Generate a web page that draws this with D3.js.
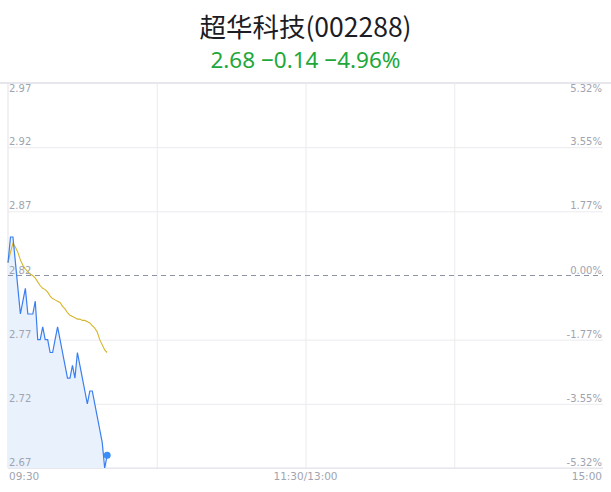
<!DOCTYPE html>
<html>
<head>
<meta charset="utf-8">
<script src="https://cdn.jsdelivr.net/npm/d3@7"></script>
<style>
  body { margin: 0; background: #fff; }
  svg { display: block; }
</style>
</head>
<body>
<div id="chart"></div>
<script>
const title = "超华科技(002288)";
const quote = "2.68 −0.14 −4.96%";
const prevClose = 2.82;
const priceTicks = [2.97, 2.92, 2.87, 2.82, 2.77, 2.72, 2.67];
const pctTicks = ["5.32%", "3.55%", "1.77%", "0.00%", "-1.77%", "-3.55%", "-5.32%"];
const timeTicks = [0, 120, 240];
const timeLabels = ["09:30", "11:30/13:00", "15:00"];

// minute prices from 09:30
const prices = [
  2.83, 2.85, 2.85, 2.83, 2.81, 2.79, 2.80, 2.81, 2.79, 2.79,
  2.79, 2.80, 2.77, 2.77, 2.78, 2.77, 2.77, 2.76, 2.76, 2.77,
  2.78, 2.77, 2.76, 2.75, 2.74, 2.74, 2.75, 2.74, 2.76, 2.75,
  2.74, 2.73, 2.72, 2.73, 2.73, 2.72, 2.71, 2.70, 2.69, 2.67,
  2.68
];
// average price line
const avgPrices = [
  2.830, 2.838, 2.845, 2.842, 2.838, 2.832, 2.828, 2.825, 2.823, 2.821,
  2.820, 2.818, 2.815, 2.812, 2.810, 2.809, 2.807, 2.804, 2.802, 2.801,
  2.800, 2.799, 2.796, 2.794, 2.791, 2.789, 2.788, 2.787, 2.786, 2.786,
  2.785, 2.785, 2.784, 2.783, 2.781, 2.779, 2.776, 2.770, 2.766, 2.762,
  2.760
];

const W = 611, H = 492;
const plot = { left: 8, right: 603, top: 83, bottom: 468 };

const svg = d3.select("#chart")
  .append("svg")
  .attr("width", W)
  .attr("height", H);

// title
svg.append("text")
  .attr("x", W / 2).attr("y", 37)
  .attr("text-anchor", "middle")
  .attr("font-family", "'Noto Sans CJK SC', 'Noto Sans', sans-serif")
  .attr("font-size", 26.5)
  .attr("fill", "#1c1c24")
  .text(title);

svg.append("text")
  .attr("x", W / 2).attr("y", 68)
  .attr("text-anchor", "middle")
  .attr("font-family", "'Noto Sans', 'Roboto', sans-serif")
  .attr("font-size", 22.5)
  .attr("fill", "#1ea83a")
  .text(quote);

// scales
const x = d3.scaleLinear().domain([0, 240]).range([plot.left, plot.right]);
const y = d3.scaleLinear().domain([2.67, 2.97]).range([plot.bottom, plot.top]);

// top border
svg.append("line")
  .attr("x1", 0).attr("x2", W)
  .attr("y1", plot.top).attr("y2", plot.top)
  .attr("stroke", "#e6e6ec").attr("stroke-width", 2);

// horizontal grid
svg.append("g")
  .attr("transform", `translate(${plot.left},0)`)
  .call(d3.axisLeft(y).tickValues(priceTicks.filter(d => d !== prevClose && d !== 2.97))
    .tickSize(-(plot.right - plot.left)).tickFormat(""))
  .call(g => g.select(".domain").remove())
  .selectAll("line")
  .attr("stroke", "#ebebf0");

// vertical grid
svg.append("g")
  .attr("transform", `translate(0,${plot.bottom})`)
  .call(d3.axisBottom(x).tickValues([60, 120, 180])
    .tickSize(-(plot.bottom - plot.top)).tickFormat(""))
  .call(g => g.select(".domain").remove())
  .selectAll("line")
  .attr("stroke", "#ebebf0");

// left border
svg.append("line")
  .attr("x1", plot.left).attr("x2", plot.left)
  .attr("y1", plot.top).attr("y2", plot.bottom)
  .attr("stroke", "#e3e3ea");

// bottom axis line
svg.append("line")
  .attr("x1", plot.left).attr("x2", plot.right)
  .attr("y1", plot.bottom).attr("y2", plot.bottom)
  .attr("stroke", "#e3e3ea");

// area under price
const area = d3.area()
  .x((d, i) => x(i))
  .y0(plot.bottom)
  .y1(d => y(d));

svg.append("path")
  .datum(prices)
  .attr("d", area)
  .attr("fill", "#e9f1fd");

// prev close dashed line
svg.append("line")
  .attr("x1", plot.left).attr("x2", plot.right)
  .attr("y1", y(prevClose)).attr("y2", y(prevClose))
  .attr("stroke", "#8c94a8")
  .attr("stroke-dasharray", "5,4");

// avg line
const line = d3.line()
  .x((d, i) => x(i))
  .y(d => y(d));

svg.append("path")
  .datum(avgPrices)
  .attr("d", line)
  .attr("fill", "none")
  .attr("stroke", "#d6b62c")
  .attr("stroke-width", 1.1);

// price line
svg.append("path")
  .datum(prices)
  .attr("d", line)
  .attr("fill", "none")
  .attr("stroke", "#3a7ff0")
  .attr("stroke-width", 1.2);

// last point
const lastI = prices.length - 1;
svg.append("circle")
  .attr("cx", x(lastI))
  .attr("cy", y(prices[lastI]))
  .attr("r", 3.5)
  .attr("fill", "#3a8ef6");

// price labels (left) and percent labels (right)
const labelFont = "'DejaVu Sans', 'Noto Sans', sans-serif";
priceTicks.forEach((p, i) => {
  const ty = i === 0 ? y(p) + 9 : y(p) - 2;
  svg.append("text")
    .attr("x", plot.left + 1).attr("y", ty)
    .attr("font-family", labelFont)
    .attr("font-size", 10)
    .attr("fill", "#a0a4b0")
    .text(p.toFixed(2));
  svg.append("text")
    .attr("x", plot.right - 1).attr("y", ty)
    .attr("text-anchor", "end")
    .attr("font-family", labelFont)
    .attr("font-size", 10)
    .attr("fill", "#a0a4b0")
    .text(pctTicks[i]);
});

// time labels
const anchors = ["start", "middle", "end"];
timeTicks.forEach((t, i) => {
  svg.append("text")
    .attr("x", x(t) + (i === 0 ? 1 : i === 2 ? -1 : 0))
    .attr("y", 480)
    .attr("text-anchor", anchors[i])
    .attr("font-family", labelFont)
    .attr("font-size", 10.5)
    .attr("fill", "#a0a4b0")
    .text(timeLabels[i]);
});
</script>
</body>
</html>
